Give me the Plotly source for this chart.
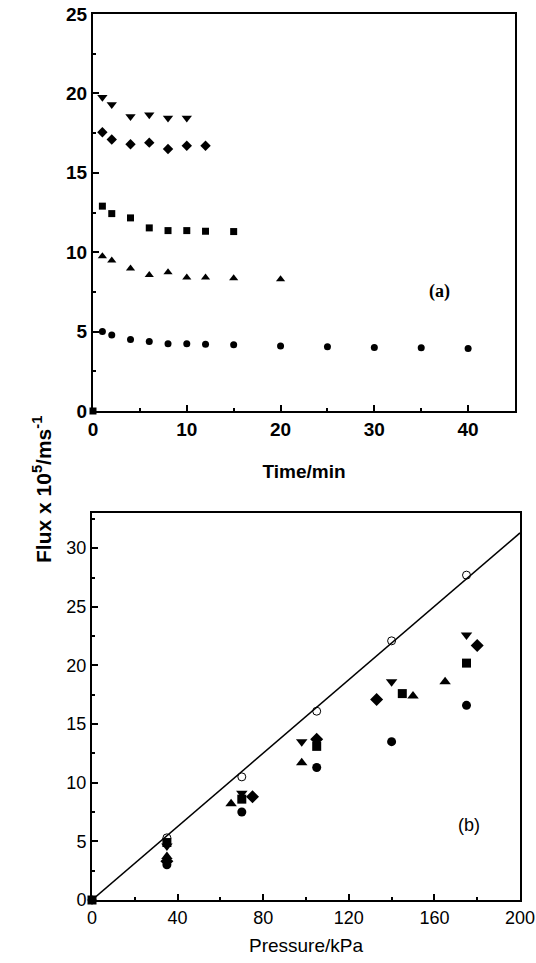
import plotly.graph_objects as go

W, H = 536, 963

# ---- Panel (a): flux vs time ----
t_circle = [1, 2, 4, 6, 8, 10, 12, 15, 20, 25, 30, 35, 40]
f_circle = [5.01, 4.78, 4.5, 4.38, 4.23, 4.23, 4.21, 4.17, 4.09, 4.05, 4.0, 3.98, 3.94]
t_tri_up = [1, 2, 4, 6, 8, 10, 12, 15, 20]
f_tri_up = [9.75, 9.47, 8.97, 8.57, 8.74, 8.4, 8.4, 8.36, 8.3]
t_square = [1, 2, 4, 6, 8, 10, 12, 15]
f_square = [12.9, 12.43, 12.16, 11.53, 11.36, 11.36, 11.32, 11.3]
t_diamond = [1, 2, 4, 6, 8, 10, 12]
f_diamond = [17.55, 17.1, 16.8, 16.9, 16.5, 16.7, 16.7]
t_tri_down = [1, 2, 4, 6, 8, 10]
f_tri_down = [19.75, 19.3, 18.55, 18.65, 18.45, 18.45]
t_origin = [0]
f_origin = [0]

# ---- Panel (b): flux vs pressure ----
p_circle = [35, 70, 105, 140, 175]
fp_circle = [3.0, 7.5, 11.3, 13.5, 16.6]
p_tri_up = [35, 65, 98, 150, 165]
fp_tri_up = [3.7, 8.2, 11.7, 17.4, 18.6]
p_square = [35, 70, 105, 145, 175]
fp_square = [4.9, 8.6, 13.1, 17.6, 20.2]
p_tri_down = [35, 70, 98, 140, 175]
fp_tri_down = [4.6, 9.1, 13.5, 18.6, 22.6]
p_diamond = [35, 75, 105, 133, 180]
fp_diamond = [3.3, 8.8, 13.7, 17.1, 21.7]
p_open = [0, 35, 70, 105, 140, 175]
fp_open = [0, 5.3, 10.5, 16.1, 22.1, 27.7]
p_line = [0, 200]
fp_line = [0, 31.3]
p_origin = [0]
fp_origin = [0]

fig = go.Figure()

def add(x, y, sym, size, xa, ya, color="black", line_w=0):
    fig.add_trace(go.Scatter(
        x=x, y=y, mode="markers", xaxis=xa, yaxis=ya, showlegend=False, cliponaxis=False,
        marker=dict(symbol=sym, size=size, color=color,
                    line=dict(color="black", width=line_w))))

# panel a
add(t_circle, f_circle, "circle", 7, "x", "y")
add(t_tri_up, f_tri_up, "triangle-up", 8, "x", "y")
add(t_square, f_square, "square", 7, "x", "y")
add(t_diamond, f_diamond, "diamond", 8, "x", "y")
add(t_tri_down, f_tri_down, "triangle-down", 9, "x", "y")
add(t_origin, f_origin, "square", 7, "x", "y")

# panel b
fig.add_trace(go.Scatter(x=p_line, y=fp_line, mode="lines", xaxis="x2", yaxis="y2",
                         showlegend=False, line=dict(color="black", width=1.5)))
add(p_open, fp_open, "circle-open", 8, "x2", "y2", line_w=1)
add(p_circle, fp_circle, "circle", 9, "x2", "y2")
add(p_tri_up, fp_tri_up, "triangle-up", 10, "x2", "y2")
add(p_square, fp_square, "square", 9, "x2", "y2")
add(p_tri_down, fp_tri_down, "triangle-down", 10, "x2", "y2")
add(p_diamond, fp_diamond, "diamond", 10, "x2", "y2")
add(p_origin, fp_origin, "square", 9, "x2", "y2")

axis_common = dict(showgrid=False, zeroline=False, showline=True, linecolor="black",
                   linewidth=2, mirror=True, ticks="inside", ticklen=6, tickwidth=1.5,
                   tickcolor="black", automargin=False)

boldfont = dict(family="Liberation Sans, Arial", size=19, color="black", weight="bold")
regfont = dict(family="Liberation Sans, Arial", size=18, color="black")
titlefont_b = dict(family="Liberation Sans, Arial", size=19, color="black")

fig.update_layout(
    width=W, height=H, margin=dict(l=0, r=0, t=0, b=0, autoexpand=False),
    paper_bgcolor="white", plot_bgcolor="white",
    xaxis=dict(domain=[93 / W, 515 / W], range=[0, 45], tickvals=[0, 10, 20, 30, 40],
               anchor="y", tickfont=boldfont,
               minor=dict(dtick=5, ticks="inside", ticklen=3, tickcolor="black"),
               title=dict(text="Time/min", font=boldfont, standoff=26),
               **axis_common),
    yaxis=dict(domain=[1 - 411 / H, 1 - 14 / H], range=[0, 25], tickvals=[0, 5, 10, 15, 20, 25],
               anchor="x", tickfont=boldfont,
               minor=dict(dtick=2.5, ticks="inside", ticklen=3, tickcolor="black"),
               **axis_common),
    xaxis2=dict(domain=[92 / W, 520 / W], range=[0, 200], tickvals=[0, 40, 80, 120, 160, 200],
                anchor="y2", tickfont=regfont,
                minor=dict(dtick=20, ticks="inside", ticklen=3, tickcolor="black"),
                title=dict(text="Pressure/kPa", font=titlefont_b, standoff=12),
                **axis_common),
    yaxis2=dict(domain=[1 - 900 / H, 1 - 513 / H], range=[0, 33], tickvals=[0, 5, 10, 15, 20, 25, 30],
                anchor="x2", tickfont=regfont,
                minor=dict(dtick=2.5, ticks="inside", ticklen=3, tickcolor="black"),
                **axis_common),
    annotations=[
        dict(text="<b>(a)</b>", x=37, y=7.5, xref="x", yref="y", showarrow=False,
             font=dict(family="Liberation Serif, Times New Roman", size=18, color="black")),
        dict(text="(b)", x=176, y=6.4, xref="x2", yref="y2", showarrow=False,
             font=regfont),
        dict(text="<b>Flux x 10<sup>5</sup>/ms<sup>-1</sup></b>", x=27 / W, y=1 - 490 / H,
             xref="paper", yref="paper", showarrow=False, textangle=-90,
             font=dict(family="Liberation Sans, Arial", size=21, color="black")),
    ],
)

fig.write_html("out.html")
